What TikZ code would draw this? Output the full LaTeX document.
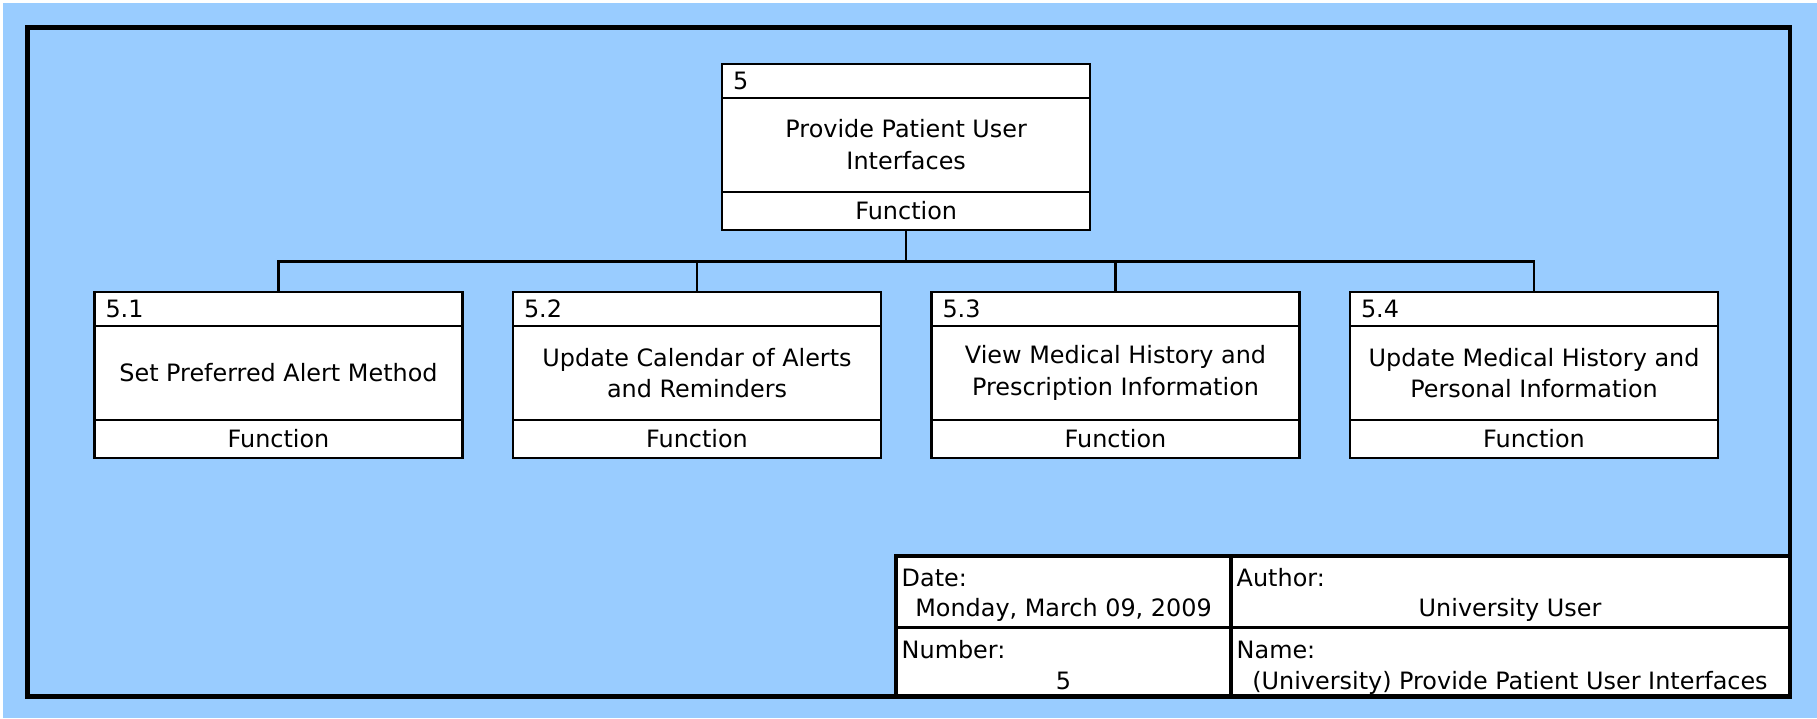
\documentclass[tikz,border=0pt]{standalone}
\usepackage{fontspec}
\setmainfont{DejaVu Sans}
\usepackage{tikz}
\usetikzlibrary{positioning}
\definecolor{sheetblue}{RGB}{153,204,255}
\tikzstyle{boxfont}=[font=\fontsize{6.8pt}{8.9pt}\selectfont]
\tikzstyle{fbody}=[draw,fill=white,line width=0.6pt,minimum width=3.68cm,minimum height=0.94cm,align=center,inner sep=0pt,boxfont]
\tikzstyle{fhead}=[draw,fill=white,line width=0.6pt,minimum width=3.68cm,minimum height=0.335cm,text width=3.46cm,align=left,inner xsep=0.11cm,inner ysep=0pt,boxfont]
\tikzstyle{ffoot}=[draw,fill=white,line width=0.6pt,minimum width=3.68cm,minimum height=0.38cm,inner sep=0pt,boxfont]
\tikzstyle{tbcell}=[draw,fill=white,line width=1.1pt,inner sep=0pt,outer sep=0pt,anchor=north west]
\tikzstyle{tbtext}=[inner sep=0pt,boxfont]

\begin{document}
\begin{tikzpicture}[node distance=4.185cm,on grid]
	\useasboundingbox (0,0) rectangle (18.17,-7.18);
	\fill[white] (0,0) rectangle (18.17,-7.18);
	\fill[sheetblue] (0.03,-0.03) rectangle (18.17,-7.18);
	\draw[line width=1.4pt] (0.275,-0.275) rectangle (17.9,-6.965);

	\node[fbody]			(f5) at (9.062,-1.447) {Provide Patient User\\Interfaces};
		\node[fhead,above=0.6375cm of f5] (f5h) {5};
		\node[ffoot,below=0.66cm of f5] (f5f) {Function};
	\node[fbody]			(f51) at (2.785,-3.729) {Set Preferred Alert Method};
		\node[fhead,above=0.6375cm of f51] (f51h) {5.1};
		\node[ffoot,below=0.66cm of f51] (f51f) {Function};
	\node[fbody]			(f52) [right=of f51] {Update Calendar of Alerts\\and Reminders};
		\node[fhead,above=0.6375cm of f52] (f52h) {5.2};
		\node[ffoot,below=0.66cm of f52] (f52f) {Function};
	\node[fbody]			(f53) [right=of f52] {View Medical History and\\Prescription Information};
		\node[fhead,above=0.6375cm of f53] (f53h) {5.3};
		\node[ffoot,below=0.66cm of f53] (f53f) {Function};
	\node[fbody]			(f54) [right=of f53] {Update Medical History and\\Personal Information};
		\node[fhead,above=0.6375cm of f54] (f54h) {5.4};
		\node[ffoot,below=0.66cm of f54] (f54f) {Function};

	\coordinate[below=0.307cm of f5f.south] (bus);
	\draw[line width=0.6pt] (f5f.south) -- (bus);
	\draw[line width=0.6pt,line cap=rect] (f51h.north |- bus) -- (f54h.north |- bus);
	\foreach \c in {f51h,f52h,f53h,f54h}
		\draw[line width=0.6pt] (\c.north) -- (\c.north |- bus);

	\node[tbcell,minimum width=3.35cm,minimum height=0.715cm] (date) at (8.96,-5.56) {};
	\node[tbcell,minimum width=5.585cm,minimum height=0.715cm] (author) at (date.north east) {};
	\node[tbcell,minimum width=3.35cm,minimum height=0.68cm] (number) at (date.south west) {};
	\node[tbcell,minimum width=5.585cm,minimum height=0.68cm] (name) at (date.south east) {};

	\node[tbtext,anchor=base west] (datel) at (9.01,-5.867) {Date:};
	\node[tbtext,anchor=base] (datev) at (10.635,-6.16) {Monday, March 09, 2009};
	\node[tbtext,anchor=base west] (authorl) at (12.36,-5.867) {Author:};
	\node[tbtext,anchor=base] (authorv) at (15.10,-6.16) {University User};
	\node[tbtext,anchor=base west] (numberl) at (9.01,-6.583) {Number:};
	\node[tbtext,anchor=base] (numberv) at (10.635,-6.893) {5};
	\node[tbtext,anchor=base west] (namel) at (12.36,-6.583) {Name:};
	\node[tbtext,anchor=base] (namev) at (15.10,-6.893) {(University) Provide Patient User Interfaces};
\end{tikzpicture}
\end{document}
